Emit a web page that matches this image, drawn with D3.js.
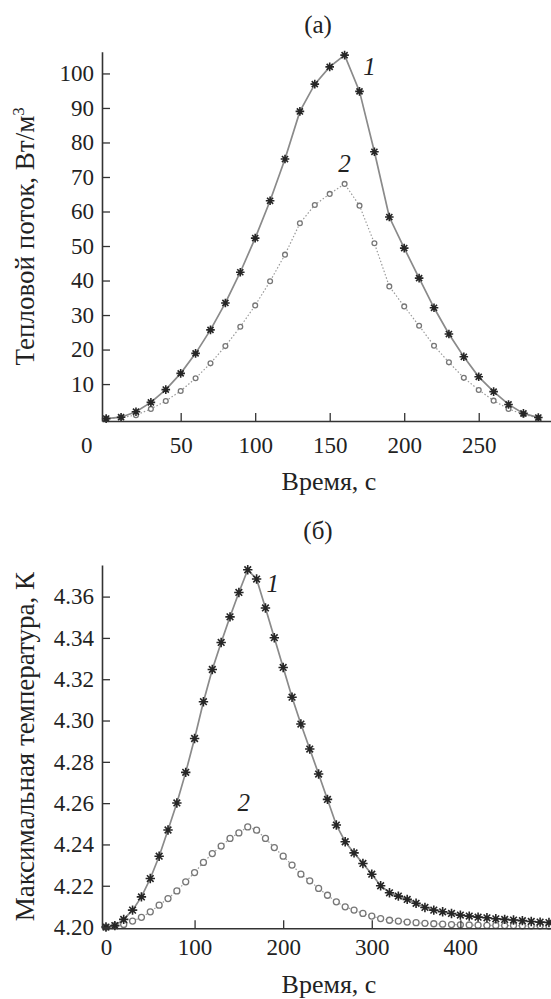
<!DOCTYPE html>
<meta charset='utf-8'>
<html>
<head>
    <title>Тепловой поток и температура</title>
    <script src='https://d3js.org/d3.v7.min.js'></script>
    <style>
        html, body { margin: 0; padding: 0; background: white; }
        svg { display: block; }
    </style>
</head>
<body>
<script>

    const width = 551;
    const height = 999;
    const serif = "'Liberation Serif', 'Times New Roman', serif";

    // (а) heat flux, every 10 s
    const timeA = [0, 10, 20, 30, 40, 50, 60, 70, 80, 90, 100, 110, 120, 130, 140,
        150, 160, 170, 180, 190, 200, 210, 220, 230, 240, 250, 260, 270, 280, 290];
    const flux1 = [0, 0.4, 2.0, 4.7, 8.4, 13.1, 18.9, 25.7, 33.5, 42.4, 52.3, 63.1, 75.2, 89.0, 96.9,
        101.9, 105.3, 94.8, 77.3, 58.4, 49.4, 40.7, 32.1, 24.5, 17.9, 12.1, 7.8, 4.1, 1.5, 0.3];
    const flux2 = [0, 0.3, 1.0, 2.8, 5.1, 8.0, 11.7, 16.0, 21.0, 26.6, 32.8, 39.8, 47.5, 56.6, 61.9,
        65.1, 68.0, 61.7, 50.8, 38.3, 32.5, 26.9, 21.1, 16.3, 11.8, 8.3, 5.2, 2.8, 1.2, 0.2];
    const ticksXA = [0, 50, 100, 150, 200, 250];
    const ticksYA = [10, 20, 30, 40, 50, 60, 70, 80, 90, 100];

    // (б) maximum temperature, every 10 s
    const timeB = [0, 10, 20, 30, 40, 50, 60, 70, 80, 90, 100, 110, 120, 130, 140, 150, 160,
        170, 180, 190, 200, 210, 220, 230, 240, 250, 260, 270, 280, 290, 300, 310, 320, 330,
        340, 350, 360, 370, 380, 390, 400, 410, 420, 430, 440, 450, 460, 470, 480, 490, 500];
    const temp1 = [4.2000, 4.2007, 4.2037, 4.2082, 4.2146, 4.2235, 4.2343, 4.2470, 4.2601, 4.2749,
        4.2913, 4.3091, 4.3247, 4.3378, 4.3502, 4.3620, 4.3730, 4.3685, 4.3545, 4.3401,
        4.3257, 4.3113, 4.2983, 4.2862, 4.2741, 4.2618, 4.2494, 4.2413, 4.2359, 4.2308,
        4.2256, 4.2200, 4.2166, 4.2150, 4.2134, 4.2115, 4.2095, 4.2082, 4.2074, 4.2066,
        4.2058, 4.2053, 4.2048, 4.2045, 4.2040, 4.2037, 4.2034, 4.2031, 4.2027, 4.2024, 4.2022];
    const temp2 = [4.2000, 4.2007, 4.2013, 4.2029, 4.2047, 4.2074, 4.2106, 4.2138, 4.2175, 4.2219,
        4.2264, 4.2313, 4.2356, 4.2392, 4.2429, 4.2456, 4.2485, 4.2469, 4.2429, 4.2385,
        4.2343, 4.2300, 4.2256, 4.2224, 4.2187, 4.2154, 4.2122, 4.2098, 4.2082, 4.2066,
        4.2053, 4.2041, 4.2033, 4.2029, 4.2024, 4.2021, 4.2018, 4.2016, 4.2014, 4.2012,
        4.2011, 4.2010, 4.2009, 4.2008, 4.2008, 4.2007, 4.2007, 4.2006, 4.2006, 4.2006, 4.2005];
    const ticksXB = [0, 100, 200, 300, 400];
    const ticksYB = [4.20, 4.22, 4.24, 4.26, 4.28, 4.30, 4.32, 4.34, 4.36];

    const svg = d3.select('body')
        .append('svg')
        .attr('width', width)
        .attr('height', height)
        .style('font-family', serif);

    // asterisk marker (8 spokes)
    function starPath(r) {
        const d = r * Math.SQRT1_2;
        return 'M' + (-r) + ',0L' + r + ',0M0,' + (-r) + 'L0,' + r +
            'M' + (-d) + ',' + (-d) + 'L' + d + ',' + d +
            'M' + (-d) + ',' + d + 'L' + d + ',' + (-d);
    }

    function drawPanel(p) {
        const x = d3.scaleLinear().domain(p.xDomain).range([p.left, p.right]);
        const y = d3.scaleLinear().domain(p.yDomain).range([p.bottom, p.top]);
        const g = svg.append('g');

        // title
        g.append('text')
            .attr('x', 318)
            .attr('y', p.titleY)
            .attr('text-anchor', 'middle')
            .style('font-family', serif)
            .style('font-size', '25px')
            .attr('fill', '#222')
            .text(p.title);

        const pts2 = p.time.map((t, i) => [t, p.s2[i]]);
        const pts1 = p.time.map((t, i) => [t, p.s1[i]]);
        const line = d3.line().x(d => x(d[0])).y(d => y(d[1]));

        // series 2: dotted line
        g.append('path')
            .attr('d', line(pts2))
            .attr('fill', 'none')
            .attr('stroke', '#9a9a9a')
            .attr('stroke-width', 1.2)
            .attr('stroke-dasharray', '1.5,2');

        // series 1: solid line
        g.append('path')
            .attr('d', line(pts1))
            .attr('fill', 'none')
            .attr('stroke', '#8a8a8a')
            .attr('stroke-width', 1.7);

        g.selectAll('circle.s2')
            .data(pts2)
            .enter()
            .append('circle')
            .attr('class', 's2')
            .attr('cx', d => x(d[0]))
            .attr('cy', d => y(d[1]))
            .attr('r', p.circleR)
            .attr('fill', 'white')
            .attr('stroke', '#777')
            .attr('stroke-width', 1.3);

        g.selectAll('path.s1')
            .data(pts1)
            .enter()
            .append('path')
            .attr('class', 's1')
            .attr('transform', d => 'translate(' + x(d[0]) + ',' + y(d[1]) + ')')
            .attr('d', starPath(p.starR))
            .attr('stroke', '#262626')
            .attr('stroke-width', 1.6);

        // axes
        const xAxis = d3.axisBottom(x)
            .tickValues(p.xTicks)
            .tickSizeInner(-8)
            .tickSizeOuter(0)
            .tickPadding(p.xPad)
            .tickFormat(d3.format('d'));
        const gx = g.append('g')
            .attr('transform', 'translate(0,' + p.bottom + ')')
            .call(xAxis);

        const yAxis = d3.axisLeft(y)
            .tickValues(p.yTicks)
            .tickSizeInner(-8)
            .tickSizeOuter(0)
            .tickPadding(8)
            .tickFormat(p.yFormat);
        const gy = g.append('g')
            .attr('transform', 'translate(' + p.left + ',0)')
            .call(yAxis);

        [gx, gy].forEach(a => {
            a.attr('font-family', serif).attr('font-size', 23);
            a.select('.domain').attr('stroke', '#333').attr('stroke-width', 1.6);
            a.selectAll('.tick line').attr('stroke', '#333').attr('stroke-width', 1.3);
            a.selectAll('.tick text')
                .style('font-family', serif)
                .style('font-size', '23px')
                .attr('fill', '#222');
        });
        gx.selectAll('.tick')
            .filter(d => d === 0)
            .select('line').remove();
        if (p.zeroShift) {
            gx.selectAll('.tick').filter(d => d === 0).select('text').attr('dx', p.zeroShift);
        }

        // axis titles
        g.append('text')
            .attr('x', 329)
            .attr('y', p.xLabelY)
            .attr('text-anchor', 'middle')
            .style('font-family', serif)
            .style('font-size', '26px')
            .attr('fill', '#222')
            .text('Время, с');

        const yl = g.append('text')
            .attr('transform', 'translate(34,' + ((p.top + p.bottom) / 2) + ') rotate(-90)')
            .attr('text-anchor', 'middle')
            .style('font-family', serif)
            .style('font-size', '27px')
            .attr('fill', '#222');
        yl.append('tspan').text(p.yLabel);
        if (p.yLabelSup) {
            yl.append('tspan')
                .attr('dy', -10)
                .style('font-size', '17px')
                .text(p.yLabelSup);
        }

        // curve numbers
        p.marks.forEach(m => {
            g.append('text')
                .attr('x', x(m.t) + m.dx)
                .attr('y', y(m.v) + m.dy)
                .attr('text-anchor', 'middle')
                .style('font-family', serif)
                .style('font-size', '25px')
                .style('font-style', 'italic')
                .attr('fill', '#222')
                .text(m.label);
        });
    }

    drawPanel({
        title: '(а)', titleY: 33,
        time: timeA, s1: flux1, s2: flux2,
        xDomain: [-2.8, 298.5], yDomain: [-0.7, 106.3],
        left: 102, right: 551, top: 51.7, bottom: 421,
        xTicks: ticksXA, yTicks: ticksYA,
        yFormat: d3.format('d'),
        xPad: 16, zeroShift: -20,
        xLabelY: 490,
        yLabel: 'Тепловой поток, Вт/м', yLabelSup: '3',
        starR: 4.3, circleR: 2.4,
        marks: [
            { label: '1', t: 160, v: flux1[16], dx: 25, dy: 20 },
            { label: '2', t: 160, v: flux2[16], dx: 0, dy: -12 }
        ]
    });

    drawPanel({
        title: '(б)', titleY: 539,
        time: timeB, s1: temp1, s2: temp2,
        xDomain: [-4.5, 502.3], yDomain: [4.1994, 4.3753],
        left: 102, right: 551, top: 565, bottom: 928.3,
        xTicks: ticksXB, yTicks: ticksYB,
        yFormat: d3.format('.2f'),
        xPad: 10, zeroShift: 0,
        xLabelY: 993,
        yLabel: 'Максимальная температура, К', yLabelSup: null,
        starR: 4.7, circleR: 3,
        marks: [
            { label: '1', t: 160, v: temp1[16], dx: 25, dy: 22 },
            { label: '2', t: 160, v: temp2[16], dx: -4, dy: -16 }
        ]
    });

</script>
</body>
</html>
